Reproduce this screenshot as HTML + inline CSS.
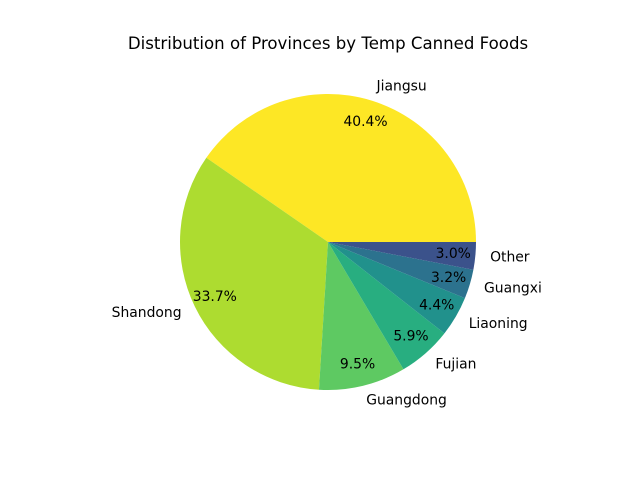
<!DOCTYPE html>
<html><head><meta charset="utf-8"><style>
body{margin:0;background:#fff;}
svg text{font-family:"DejaVu Sans","Liberation Sans",sans-serif;}
</style></head><body>
<svg id="chart" width="640" height="480" xmlns="http://www.w3.org/2000/svg">
<rect width="640" height="480" fill="#fff"/>
<text x="328" y="49" text-anchor="middle" font-size="16.6" fill="#000">Distribution of Provinces by Temp Canned Foods</text>
<g id="slices"></g>
<g id="labels"></g>
</svg>
<script>
const categories = ["Jiangsu","Shandong","Guangdong","Fujian","Liaoning","Guangxi","Other"];
const values = [40.4,33.7,9.5,5.9,4.4,3.2,3.0];
const colors = ["#fde725","#addc30","#5ec962","#28ae80","#21918c","#2c728e","#3b528b"];
const cx=328, cy=242, r=148;
const NS="http://www.w3.org/2000/svg";
const total=values.reduce((a,b)=>a+b,0);
const sg=document.getElementById('slices'), lg=document.getElementById('labels');
function pt(a,d){return [cx+d*Math.cos(a), cy-d*Math.sin(a)];}
let start=0;
values.forEach((v,i)=>{
  const sweep=v/total*2*Math.PI, end=start+sweep;
  const [x1,y1]=pt(start,r), [x2,y2]=pt(end,r);
  const p=document.createElementNS(NS,'path');
  p.setAttribute('d',`M${cx},${cy} L${x1},${y1} A${r},${r} 0 ${sweep>Math.PI?1:0} 0 ${x2},${y2} Z`);
  p.setAttribute('fill',colors[i]);
  
  
  sg.appendChild(p);
  const mid=(start+end)/2;
  const [lx,ly]=pt(mid,r*1.1);
  const t=document.createElementNS(NS,'text');
  t.setAttribute('x',lx);t.setAttribute('y',ly+4);t.setAttribute('font-size','13.9');
  t.setAttribute('text-anchor',Math.cos(mid)>0?'start':'end');
  t.textContent=categories[i];
  
  
  lg.appendChild(t);
  const [px,py]=pt(mid,r*0.85);
  const q=document.createElementNS(NS,'text');
  q.setAttribute('x',px);q.setAttribute('y',py+4);q.setAttribute('font-size','13.9');
  q.setAttribute('text-anchor','middle');
  q.textContent=v.toFixed(1)+'%';
  
  
  lg.appendChild(q);
  start=end;
});
</script>
</body></html>
